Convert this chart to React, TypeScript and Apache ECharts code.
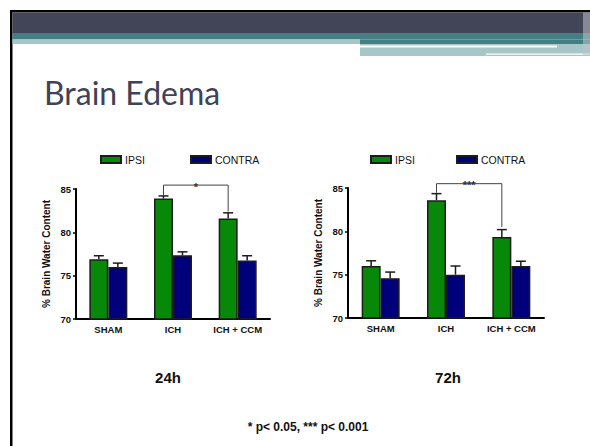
import React, { useEffect, useRef } from "react";
import * as echarts from "echarts";

const categories = ["SHAM", "ICH", "ICH + CCM"];
const seriesNames = ["IPSI", "CONTRA"];
const yTicks = [70, 75, 80, 85];

// 24h panel
const ipsi24 = [76.9, 83.9, 81.6];
const ipsi24Err = [0.4, 0.3, 0.65];
const contra24 = [76.0, 77.35, 76.75];
const contra24Err = [0.45, 0.4, 0.55];

// 72h panel
const ipsi72 = [76.0, 83.6, 79.35];
const ipsi72Err = [0.6, 0.75, 0.85];
const contra72 = [74.6, 75.0, 76.0];
const contra72Err = [0.7, 1.0, 0.55];

// significance brackets: [leftCategory, rightCategory, level, leftEnd, rightEnd]
const bracket24 = [1, 2, 85.45, 84.3, 82.4];
const bracket24Label = "*";
const bracket72 = [1, 2, 85.5, 84.45, 80.5];
const bracket72Label = "***";

const panelTitles = ["24h", "72h"];
const footnote = "* p< 0.05, *** p< 0.001";
const slideTitle = "Brain Edema";
const yAxisTitle = "% Brain Water Content";

const GREEN = "#088808";
const NAVY = "#00007a";
const EDGE = "#1c1c1c";
const BAR_W = 19;
const FONT = "'Liberation Sans', Arial, sans-serif";

export default function App() {
  const ref = useRef<HTMLDivElement>(null);

  useEffect(() => {
    if (!ref.current) return;
    const chart = echarts.init(ref.current, null, { renderer: "svg" });

    const errRender = (params: any, api: any) => {
      const cat = api.value(0);
      const v = api.value(1);
      const e = api.value(2);
      const side = api.value(3);
      const base = api.coord([cat, v]);
      const top = api.coord([cat, v + e]);
      const x = base[0] + (side * BAR_W) / 2;
      const st = { stroke: EDGE, lineWidth: 1.5 };
      return {
        type: "group",
        children: [
          { type: "line", shape: { x1: x, y1: base[1], x2: x, y2: top[1] }, style: st },
          { type: "line", shape: { x1: x - 5, y1: top[1], x2: x + 5, y2: top[1] }, style: st },
        ],
      };
    };

    const makeBracketRender = (label: string) => (params: any, api: any) => {
      const l = api.value(0);
      const r = api.value(1);
      const lvl = api.value(2);
      const le = api.value(3);
      const re = api.value(4);
      const xl = api.coord([l, lvl])[0] - BAR_W / 2;
      const xr = api.coord([r, lvl])[0] - BAR_W / 2;
      const yl = api.coord([l, lvl])[1];
      const ylE = api.coord([l, le])[1];
      const yrE = api.coord([r, re])[1];
      return {
        type: "group",
        children: [
          {
            type: "polyline",
            shape: { points: [[xl, ylE], [xl, yl], [xr, yl], [xr, yrE]] },
            style: { stroke: "#444", lineWidth: 1, fill: null },
          },
          {
            type: "text",
            x: (xl + xr) / 2,
            y: yl + 1.5,
            style: {
              text: label,
              fill: "#333",
              font: `bold 11px ${FONT}`,
              align: "center",
              verticalAlign: "middle",
            },
          },
        ],
      };
    };

    const errData = (vals: number[], errs: number[], side: number) =>
      vals.map((v, i) => [i, v, errs[i], side]);

    const grids = [
      { left: 76, top: 189, width: 194, height: 130 },
      { left: 348, top: 188, width: 196, height: 130 },
    ];

    const xAxes = grids.map((_, i) => ({
      type: "category",
      gridIndex: i,
      data: categories,
      axisLine: { lineStyle: { color: "#000", width: 2 } },
      axisTick: { show: false },
      axisLabel: { color: "#111", fontFamily: FONT, fontWeight: "bold", fontSize: 9.5, margin: 5 },
    }));

    const yAxes = grids.map((_, i) => ({
      type: "value",
      gridIndex: i,
      min: 70,
      max: 85,
      interval: 5,
      name: yAxisTitle,
      nameLocation: "middle",
      nameGap: 25,
      nameTextStyle: { color: "#111", fontFamily: FONT, fontWeight: "bold", fontSize: 10 },
      axisLine: { show: true, lineStyle: { color: "#000", width: 2 } },
      axisTick: { show: true, length: 3, lineStyle: { color: "#000", width: 1.5 } },
      axisLabel: {
        color: "#111",
        fontFamily: FONT,
        fontWeight: "bold",
        fontSize: 9.5,
        margin: 5,
        formatter: (v: number) => (yTicks.includes(v) ? String(v) : ""),
      },
      splitLine: { show: false },
    }));

    const barSeries = (name: string, data: number[], color: string, idx: number) => ({
      type: "bar",
      name,
      xAxisIndex: idx,
      yAxisIndex: idx,
      data,
      barWidth: BAR_W,
      barGap: "0%",
      itemStyle: { color, borderColor: EDGE, borderWidth: 1.5 },
    });

    const legendAt = (name: string, left: number) => ({
      data: [name],
      left,
      top: 149,
      itemWidth: 20,
      itemHeight: 7,
      itemGap: 0,
      selectedMode: false,
      textStyle: { color: "#111", fontFamily: FONT, fontSize: 10.5, padding: [0, 0, 0, -1] },
      icon: "rect",
    });

    const banner = [
      { type: "rect", shape: { x: 10, y: 10, width: 580, height: 2.5 }, style: { fill: "#000" } },
      { type: "rect", shape: { x: 10, y: 10, width: 2.5, height: 436 }, style: { fill: "#000" } },
      { type: "rect", shape: { x: 12.5, y: 12.5, width: 578, height: 20.5 }, style: { fill: "#424457" } },
      { type: "rect", shape: { x: 12.5, y: 33, width: 578, height: 6.5 }, style: { fill: "#437f84" } },
      { type: "rect", shape: { x: 12.5, y: 39.5, width: 347.5, height: 4.5 }, style: { fill: "#a7c6c7" } },
      { type: "rect", shape: { x: 360, y: 39.5, width: 230, height: 4.5 }, style: { fill: "#437f84" } },
      { type: "rect", shape: { x: 360, y: 44, width: 230, height: 12 }, style: { fill: "#a7c6c7" } },
      { type: "rect", shape: { x: 360, y: 45.5, width: 197, height: 2 }, style: { fill: "#ffffff" } },
      { type: "rect", shape: { x: 486, y: 53.5, width: 104, height: 1.2 }, style: { fill: "#ffffff" } },
      { type: "rect", shape: { x: 583, y: 12.5, width: 7, height: 43.5 }, style: { fill: "#bfc3c8", opacity: 0.55 } },
    ];

    const texts = [
      {
        type: "text",
        left: 44,
        top: 76,
        style: { text: slideTitle, fill: "#404356", font: `32px Lato, 'Open Sans', sans-serif` },
      },
      {
        type: "text",
        x: 168,
        y: 377,
        style: { text: panelTitles[0], fill: "#111", font: `bold 15px ${FONT}`, align: "center", verticalAlign: "middle" },
      },
      {
        type: "text",
        x: 448,
        y: 377,
        style: { text: panelTitles[1], fill: "#111", font: `bold 15px ${FONT}`, align: "center", verticalAlign: "middle" },
      },
      {
        type: "text",
        x: 308,
        y: 427,
        style: { text: footnote, fill: "#111", font: `bold 12px ${FONT}`, align: "center", verticalAlign: "middle" },
      },
    ];

    chart.setOption({
      animation: false,
      backgroundColor: "#ffffff",
      color: [GREEN, NAVY],
      legend: [
        legendAt(seriesNames[0], 95),
        legendAt(seriesNames[1], 185),
        legendAt(seriesNames[0], 365),
        legendAt(seriesNames[1], 451),
      ],
      grid: grids,
      xAxis: xAxes,
      yAxis: yAxes,
      graphic: [...banner, ...texts],
      series: [
        barSeries(seriesNames[0], ipsi24, GREEN, 0),
        barSeries(seriesNames[1], contra24, NAVY, 0),
        barSeries(seriesNames[0], ipsi72, GREEN, 1),
        barSeries(seriesNames[1], contra72, NAVY, 1),
        {
          type: "custom",
          xAxisIndex: 0,
          yAxisIndex: 0,
          renderItem: errRender,
          data: [...errData(ipsi24, ipsi24Err, -1), ...errData(contra24, contra24Err, 1)],
          z: 5,
        },
        {
          type: "custom",
          xAxisIndex: 1,
          yAxisIndex: 1,
          renderItem: errRender,
          data: [...errData(ipsi72, ipsi72Err, -1), ...errData(contra72, contra72Err, 1)],
          z: 5,
        },
        {
          type: "custom",
          xAxisIndex: 0,
          yAxisIndex: 0,
          renderItem: makeBracketRender(bracket24Label),
          data: [bracket24],
          clip: false,
          z: 5,
        },
        {
          type: "custom",
          xAxisIndex: 1,
          yAxisIndex: 1,
          renderItem: makeBracketRender(bracket72Label),
          data: [bracket72],
          clip: false,
          z: 5,
        },
      ],
    });

    return () => chart.dispose();
  }, []);

  return (
    <div
      ref={ref}
      style={{ position: "fixed", left: 0, top: 0, width: 590, height: 446, background: "#fff" }}
    />
  );
}
